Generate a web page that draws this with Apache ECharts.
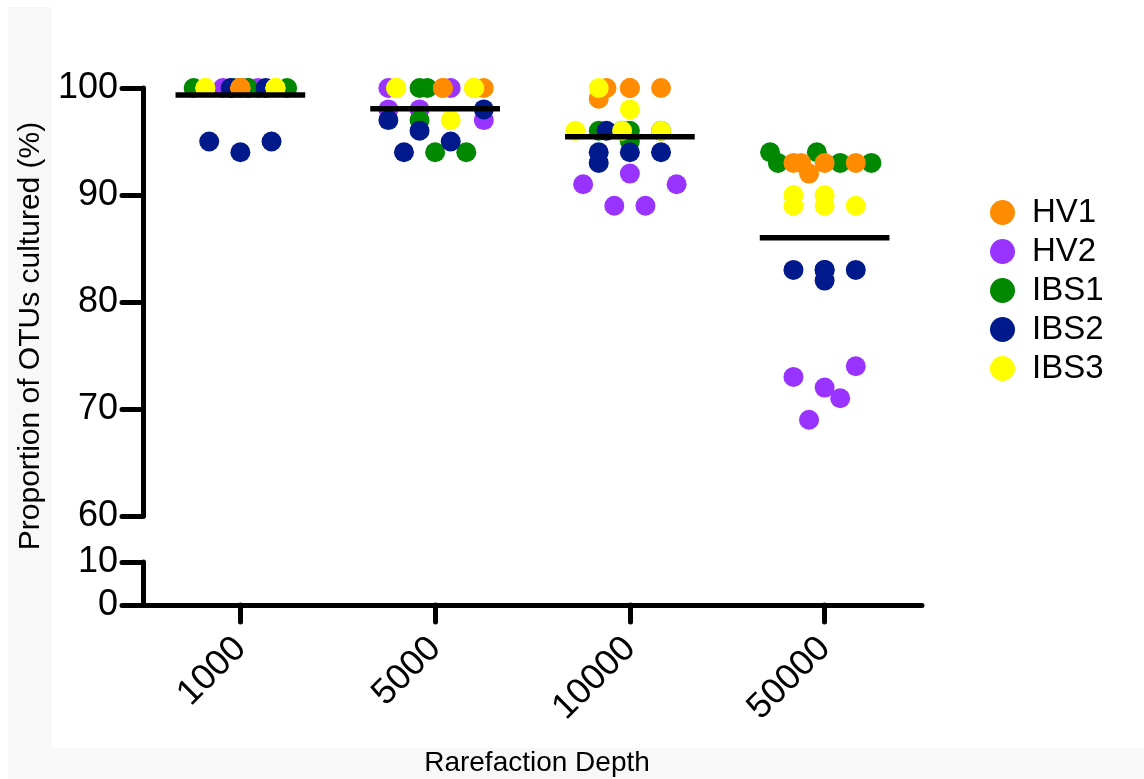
<!DOCTYPE html>
<html>
<head>
<meta charset="utf-8">
<script src="https://cdn.jsdelivr.net/npm/echarts@6/dist/echarts.min.js"></script>
<style>
html,body{margin:0;padding:0;background:#fff;}
#chart{width:1144px;height:779px;}
</style>
</head>
<body>
<div id="chart"></div>
<script>
// ---- data ----
const categories = ['1000', '5000', '10000', '50000'];
const groupNames = ['HV1', 'HV2', 'IBS1', 'IBS2', 'IBS3'];
const groupColors = ['#FF8C00', '#9933FF', '#008800', '#001A8C', '#FFFF00'];
const upperTicks = [60, 70, 80, 90, 100];
const lowerTicks = [0, 10];

// values per rarefaction depth (one inner list per category)
const hv1Values  = [[100,100,100,100,100],[100,100,100,100,100],[100,100,100,99,100],[93,93,93,93,92]];
const hv2Values  = [[100,100,100,100,100],[100,100,98,98,97],[92,91,91,89,89],[73,74,72,71,69]];
const ibs1Values = [[100,100,100,100,100],[100,100,97,94,94],[96,96,95,96,96],[94,94,93,93,93]];
const ibs2Values = [[100,100,95,94,95],[98,97,96,95,94],[96,94,94,94,93],[83,83,83,82,83]];
const ibs3Values = [[100,100,100,100,100],[100,100,97,100,100],[100,98,96,96,96],[90,90,89,89,89]];

// horizontal scatter (dot-plot jitter) in category-width units
const hv1Jitter  = [[0,0,0,0,0],[-0.2,0.04,0.04,0.2,0.25],[-0.12,0,0.16,-0.16,0],[-0.16,-0.12,0,0.16,-0.08]];
const hv2Jitter  = [[-0.09,-0.04,0,0.04,0.09],[-0.24,0.08,-0.24,-0.08,0.25],[0,-0.24,0.24,-0.08,0.08],[-0.16,0.16,0,0.08,-0.08]];
const ibs1Jitter = [[-0.24,-0.04,0,0.04,0.24],[-0.08,-0.04,-0.08,0,0.16],[-0.16,0,0,-0.04,0.16],[-0.28,-0.04,-0.24,0.08,0.24]];
const ibs2Jitter = [[-0.05,0.13,-0.16,0,0.16],[0.25,-0.24,-0.08,0.08,-0.16],[-0.12,-0.16,0,0.16,-0.16],[-0.16,0,0.16,0,0]];
const ibs3Jitter = [[-0.18,-0.18,0.18,0.18,0.18],[-0.2,0.2,0.08,-0.2,0.2],[-0.16,0,-0.28,-0.04,0.16],[-0.16,0,-0.16,0,0.16]];

const means = [99.35, 98.05, 95.45, 86.0];

// ---- build ----
const allValues = [hv1Values, hv2Values, ibs1Values, ibs2Values, ibs3Values];
const allJitter = [hv1Jitter, hv2Jitter, ibs1Jitter, ibs2Jitter, ibs3Jitter];
const zOrder = [5, 2, 3, 4, 6];
const FONT = "'Liberation Sans', Arial, sans-serif";

function buildPoints(vals, jit) {
  const out = [];
  vals.forEach((col, c) => col.forEach((v, k) => out.push([c + jit[c][k], v])));
  return out;
}

const scatterSeries = groupNames.map((name, g) => ({
  name: name,
  type: 'scatter',
  xAxisIndex: 0,
  yAxisIndex: 0,
  symbol: 'circle',
  symbolSize: 20,
  z: zOrder[g],
  itemStyle: { color: groupColors[g], opacity: 1 },
  data: buildPoints(allValues[g], allJitter[g])
}));

const meanSeries = {
  name: 'mean',
  type: 'custom',
  xAxisIndex: 0,
  yAxisIndex: 0,
  z: 10,
  silent: true,
  renderItem: function (params, api) {
    const i = api.value(0), m = api.value(1);
    const p1 = api.coord([i - 0.333, m]);
    const p2 = api.coord([i + 0.333, m]);
    return { type: 'line', shape: { x1: p1[0], y1: p1[1], x2: p2[0], y2: p2[1] },
             style: { stroke: '#000', lineWidth: 5.5 } };
  },
  data: means.map((m, i) => [i, m])
};

const axisLineStyle = { color: '#000', width: 5, cap: 'round' };

const option = {
  animation: false,
  backgroundColor: '#fff',
  textStyle: { fontFamily: FONT },
  graphic: [
    { type: 'rect', z: -10, shape: { x: 8, y: 7, width: 44, height: 772 }, style: { fill: '#f8f8f8' } },
    { type: 'rect', z: -10, shape: { x: 8, y: 748, width: 1136, height: 31 }, style: { fill: '#f8f8f8' } },
    { type: 'text', x: 31, y: 336, rotation: Math.PI / 2, z: 5,
      style: { text: 'Proportion of OTUs cultured (%)', fontSize: 30, fontFamily: FONT, fill: '#000',
               textAlign: 'center', textVerticalAlign: 'middle' } },
    { type: 'text', x: 537, y: 763, z: 5,
      style: { text: 'Rarefaction Depth', fontSize: 28, fontFamily: FONT, fill: '#000',
               textAlign: 'center', textVerticalAlign: 'middle' } }
  ],
  legend: {
    data: groupNames,
    orient: 'vertical',
    left: 985,
    top: 191,
    icon: 'circle',
    itemWidth: 25,
    itemHeight: 25,
    itemGap: 6,
    selectedMode: false,
    textStyle: { fontSize: 33, color: '#000', fontFamily: FONT, padding: [0, 0, 0, 12] }
  },
  grid: [
    { left: 143, top: 88, width: 779, height: 428 },
    { left: 143, top: 562, width: 779, height: 43 }
  ],
  xAxis: [
    { gridIndex: 0, type: 'value', min: -0.5, max: 3.5, show: false },
    { gridIndex: 1, type: 'category', data: categories, boundaryGap: true,
      axisLine: { show: true, lineStyle: axisLineStyle },
      axisTick: { show: true, alignWithLabel: true, length: 17, lineStyle: axisLineStyle },
      axisLabel: { rotate: 45, fontSize: 36, color: '#000', margin: 38, fontFamily: FONT },
      splitLine: { show: false } }
  ],
  yAxis: [
    { gridIndex: 0, type: 'value', min: upperTicks[0], max: upperTicks[upperTicks.length - 1], interval: 10,
      axisLine: { show: true, onZero: false, lineStyle: axisLineStyle },
      axisTick: { show: true, length: 21, lineStyle: axisLineStyle },
      axisLabel: { fontSize: 36, color: '#000', margin: 25, fontFamily: FONT },
      splitLine: { show: false } },
    { gridIndex: 1, type: 'value', min: lowerTicks[0], max: lowerTicks[lowerTicks.length - 1], interval: 10,
      axisLine: { show: true, onZero: false, lineStyle: axisLineStyle },
      axisTick: { show: true, length: 21, lineStyle: axisLineStyle },
      axisLabel: { fontSize: 36, color: '#000', margin: 25, fontFamily: FONT },
      splitLine: { show: false } }
  ],
  series: scatterSeries.concat([meanSeries])
};

const chart = echarts.init(document.getElementById('chart'), null, { renderer: 'canvas' });
chart.setOption(option);
</script>
</body>
</html>
